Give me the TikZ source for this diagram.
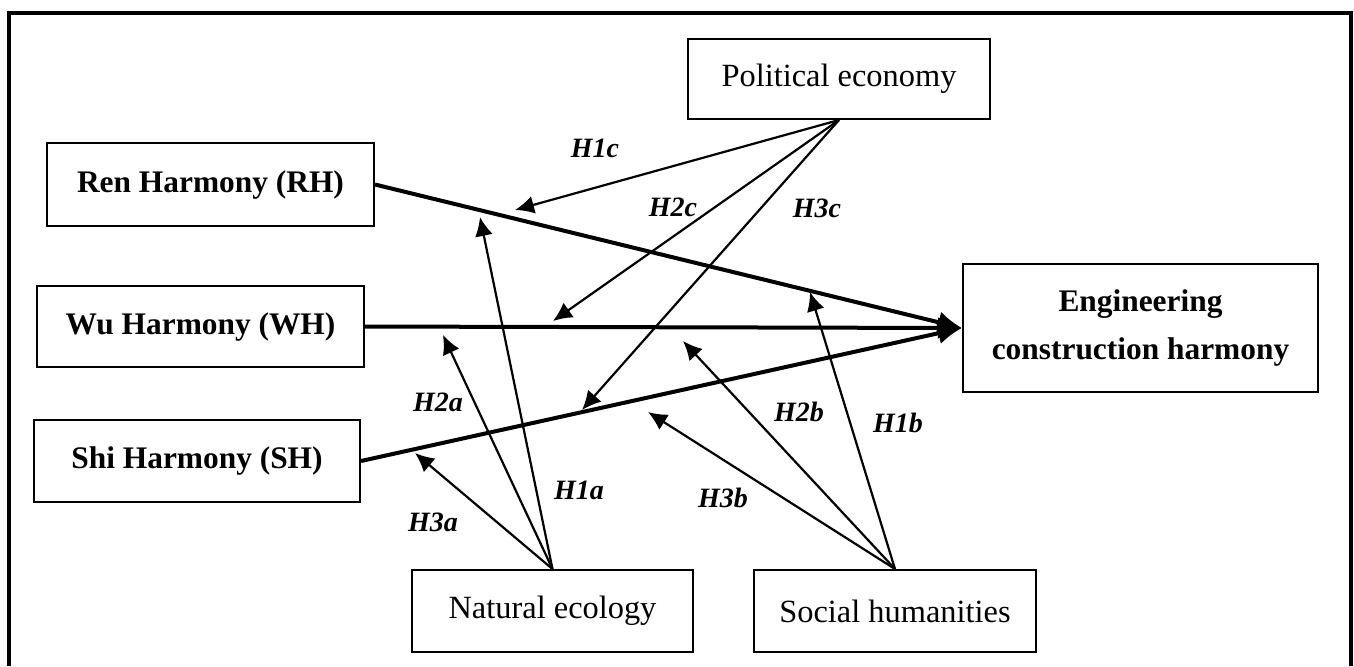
\documentclass[tikz,border=0pt]{standalone}
\usepackage{fontspec}
\setmainfont{Liberation Serif}
\usetikzlibrary{arrows.meta}

\tikzset{
  factor/.style={draw, line width=1pt, inner sep=0pt, align=center, font=\fontsize{15.7}{24}\selectfont\bfseries},
  context/.style={draw, line width=1pt, inner sep=0pt, align=center, font=\fontsize{16.2}{24}\selectfont},
  mainarrow/.style={line width=2pt, -{Latex[length=12pt,width=11pt]}},
  hyparrow/.style={line width=1.1pt, -{Latex[length=9.5pt,width=9pt]}},
  hyplabel/.style={font=\fontsize{14}{16}\selectfont\bfseries\itshape, inner sep=0pt}
}

\begin{document}
\begin{tikzpicture}[x=0.5pt, y=-0.5pt]
            \useasboundingbox (0,0) rectangle (1354,666);

            % Draw the frame
            \draw[line width=1.6pt] (9,666) -- (9,13) -- (1351,13) -- (1351,666);

            % Draw the boxes
            \node[factor, minimum width=163.5pt, minimum height=41.5pt] (RH) at (210.5,184.5) {Ren Harmony (RH)};
            \node[factor, minimum width=163.5pt, minimum height=40.5pt] (WH) at (200.5,326.5) {Wu Harmony (WH)};
            \node[factor, minimum width=163pt, minimum height=41pt] (SH) at (197,461) {Shi Harmony (SH)};
            \node[factor, minimum width=177.5pt, minimum height=64pt] (ECH) at (1140.5,328) {Engineering\\construction harmony};
            \node[context, minimum width=151pt, minimum height=40pt] (PE) at (839,79) {Political economy};
            \node[context, minimum width=140.5pt, minimum height=41pt] (NE) at (552.5,611) {Natural ecology};
            \node[context, minimum width=141pt, minimum height=41pt] (SHum) at (895,611) {Social humanities};

            % Draw the main paths
            \draw[mainarrow] (RH.east) -- (ECH.west);
            \draw[mainarrow] (WH.east) -- (ECH.west);
            \draw[mainarrow] (SH.east) -- (ECH.west);

            % Points where the moderating arrows end
            \coordinate (t1c) at (515,210);
            \coordinate (t2c) at (553,321);
            \coordinate (t3c) at (582,410);
            \coordinate (t1a) at (480,217);
            \coordinate (t2a) at (443,335);
            \coordinate (t3a) at (415,453);
            \coordinate (t1b) at (810,292);
            \coordinate (t2b) at (683,341);
            \coordinate (t3b) at (648,412);

            % Draw the moderating arrows
            \draw[hyparrow] (PE.south) -- (t1c);
            \draw[hyparrow] (PE.south) -- (t2c);
            \draw[hyparrow] (PE.south) -- (t3c);
            \draw[hyparrow] (NE.north) -- (t1a);
            \draw[hyparrow] (NE.north) -- (t2a);
            \draw[hyparrow] (NE.north) -- (t3a);
            \draw[hyparrow] (SHum.north) -- (t1b);
            \draw[hyparrow] (SHum.north) -- (t2b);
            \draw[hyparrow] (SHum.north) -- (t3b);

            % Hypothesis labels
            \node[hyplabel] (lH1c) at (595,148) {H1c};
            \node[hyplabel] (lH2c) at (673,207) {H2c};
            \node[hyplabel] (lH3c) at (817,208) {H3c};
            \node[hyplabel] (lH2a) at (438,402) {H2a};
            \node[hyplabel] (lH1a) at (579,490) {H1a};
            \node[hyplabel] (lH3a) at (433,522) {H3a};
            \node[hyplabel] (lH3b) at (723,498) {H3b};
            \node[hyplabel] (lH2b) at (799,412) {H2b};
            \node[hyplabel] (lH1b) at (898,423) {H1b};
        \end{tikzpicture}
\end{document}
